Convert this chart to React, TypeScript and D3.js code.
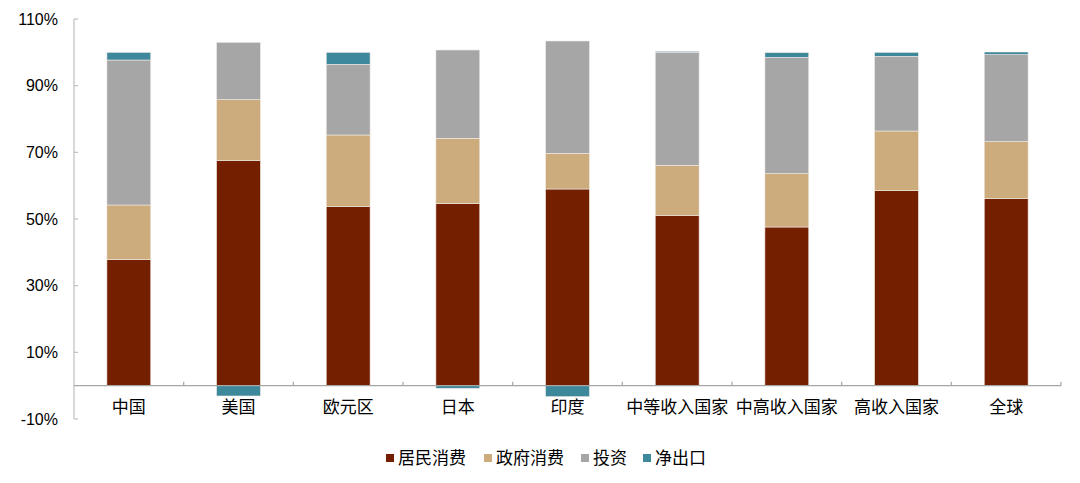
import React from 'react';
import * as d3 from 'd3';

const categories = ['中国', '美国', '欧元区', '日本', '印度', '中等收入国家', '中高收入国家', '高收入国家', '全球'];
const seriesNames = ['居民消费', '政府消费', '投资', '净出口'];
const household = [37.8, 67.6, 53.8, 54.6, 59.0, 51.1, 47.6, 58.5, 56.2];
const government = [16.4, 18.2, 21.4, 19.6, 10.7, 15.0, 16.0, 17.9, 17.0];
const investment = [43.5, 17.2, 21.2, 26.5, 33.7, 33.9, 34.9, 22.4, 26.1];
const netExports = [2.3, -3.1, 3.6, -0.8, -3.3, 0.3, 1.4, 1.2, 0.8];
const yTicks = [-10, 10, 30, 50, 70, 90, 110];
const colors = ['#741f00', '#ccab7c', '#a6a6a6', '#3e889b'];

const W = 1080;
const H = 483;
const margin = { left: 74, right: 19, top: 19, bottom: 64 };
const numFont = '"Liberation Sans", Arial, sans-serif';
const cjkFont = '"Noto Sans CJK SC", "Liberation Sans", sans-serif';

const App: React.FC = () => {
  const rows = categories.map((c, i) => ({
    cat: c,
    '居民消费': household[i],
    '政府消费': government[i],
    '投资': investment[i],
    '净出口': netExports[i],
  }));

  const stacked = d3.stack<any>()
    .keys(seriesNames)
    .offset(d3.stackOffsetDiverging)(rows);

  const x = d3.scaleBand()
    .domain(categories)
    .range([margin.left, W - margin.right])
    .paddingInner(0)
    .paddingOuter(0);

  const y = d3.scaleLinear()
    .domain([-10, 110])
    .range([H - margin.bottom, margin.top]);

  const barW = x.bandwidth() * 0.4;
  const y0 = y(0);

  const legendItems = [
    { name: seriesNames[0], x: 386 },
    { name: seriesNames[1], x: 484 },
    { name: seriesNames[2], x: 581 },
    { name: seriesNames[3], x: 643 },
  ];

  return (
    <svg width={W} height={H} style={{ position: 'absolute', left: 0, top: 0, background: '#fff' }}>
      {stacked.map((layer, li) => (
        <g key={layer.key} fill={colors[li]}>
          {layer.map((d, i) => {
            const top = y(Math.max(d[0], d[1]));
            const bot = y(Math.min(d[0], d[1]));
            return (
              <rect
                key={i}
                x={(x(categories[i]) || 0) + (x.bandwidth() - barW) / 2}
                y={top}
                width={barW}
                height={Math.max(0, bot - top)}
                stroke="#f2ece6"
                strokeWidth={0.6}
              />
            );
          })}
        </g>
      ))}

      {/* y axis */}
      <line x1={margin.left} x2={margin.left} y1={y(110)} y2={y(-10)} stroke="#bfbfbf" strokeWidth={1.2} />
      {yTicks.map(t => (
        <g key={t}>
          <line x1={margin.left} x2={margin.left + 4} y1={y(t)} y2={y(t)} stroke="#bfbfbf" strokeWidth={1.2} />
          <text x={58} y={y(t)} dy="0.35em" textAnchor="end" fontSize={16} fontFamily={numFont} fill="#000">
            {t}%
          </text>
        </g>
      ))}

      {/* x axis at zero */}
      <line x1={margin.left} x2={W - margin.right} y1={y0} y2={y0} stroke="#a6a6a6" strokeWidth={1.2} />
      {categories.map((c, i) => (
        <line
          key={'t' + i}
          x1={(x(c) || 0) + x.bandwidth()}
          x2={(x(c) || 0) + x.bandwidth()}
          y1={y0}
          y2={y0 - 4}
          stroke="#a6a6a6"
          strokeWidth={1.2}
        />
      ))}
      {categories.map(c => (
        <text
          key={c}
          x={(x(c) || 0) + x.bandwidth() / 2}
          y={407}
          dy="0.35em"
          textAnchor="middle"
          fontSize={17}
          fontFamily={cjkFont}
          fill="#000"
        >
          {c}
        </text>
      ))}

      {/* legend */}
      {legendItems.map((it, i) => (
        <g key={it.name}>
          <rect x={it.x} y={454} width={8} height={8} fill={colors[i]} />
          <text x={it.x + 12} y={458} dy="0.35em" fontSize={17} fontFamily={cjkFont} fill="#000">
            {it.name}
          </text>
        </g>
      ))}
    </svg>
  );
};

export default App;
